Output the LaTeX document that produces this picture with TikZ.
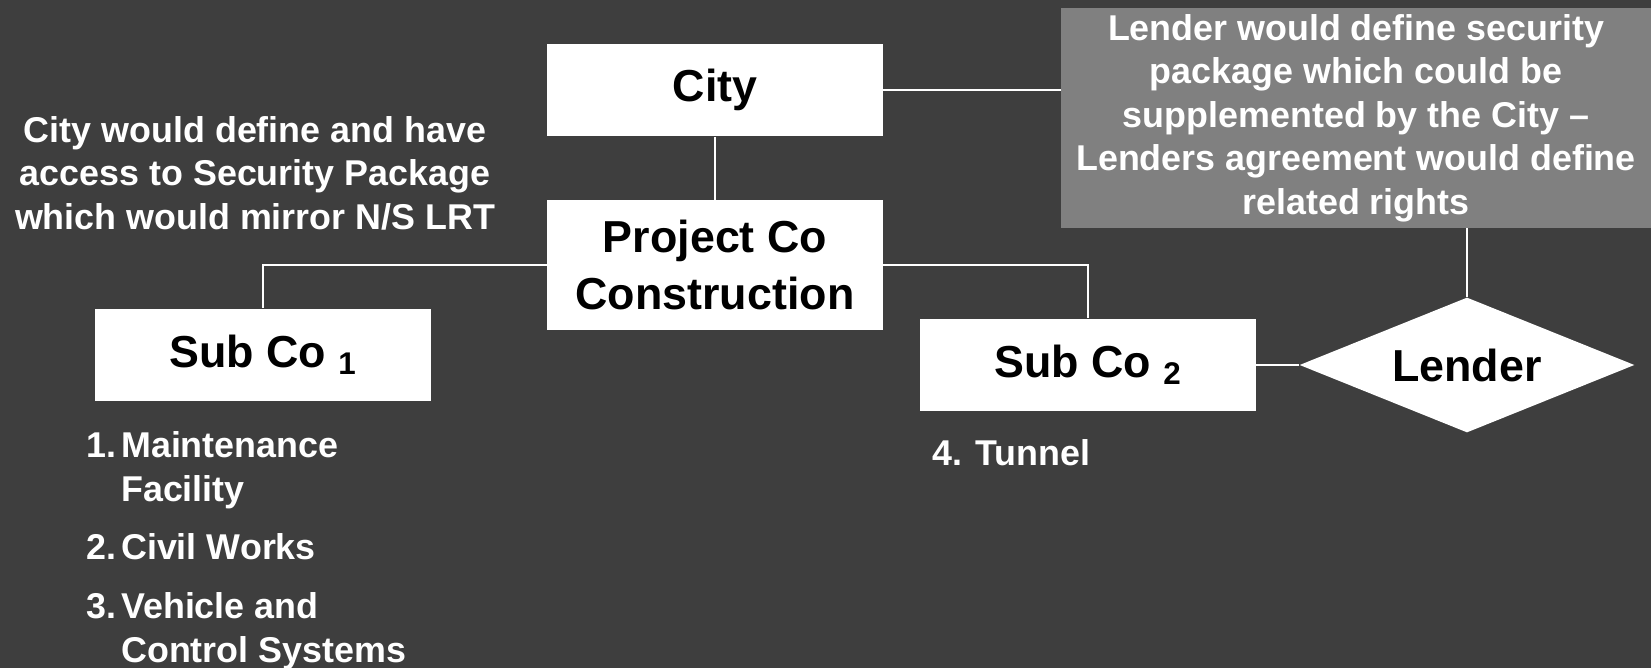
\documentclass[tikz,border=0pt]{standalone}
\usepackage{fontspec}
\setmainfont{Liberation Sans}
\usetikzlibrary{shapes.geometric}
\definecolor{slate}{RGB}{62,62,62}
\definecolor{notegray}{RGB}{128,128,128}
\tikzset{
    box/.style={fill=white, text=black, inner sep=0pt,
                minimum width=6.72cm, minimum height=1.86cm,
                font=\fontsize{25.5}{32}\selectfont\bfseries, align=center},
    remark/.style={text=white, inner sep=0pt,
                font=\fontsize{20.4}{24.8}\selectfont\bfseries},
    link/.style={draw=white, line width=0.8pt},
}

\begin{document}
\begin{tikzpicture}[x=0.02cm, y=-0.02cm]
    % background
    \fill[slate] (0,0) rectangle (1651,668);
    \useasboundingbox (0,0) rectangle (1651,668);

    % the chart boxes
    \node[box] (city) at (715,90) {City};
    \node[box, minimum height=2.6cm] (projco) at (715,265) {Project Co\\Construction};
    \node[box] (subco1) at (263,355) {Sub Co \textsubscript{1}};
    \node[box] (subco2) at (1088,365) {Sub Co \textsubscript{2}};
    \node[box, diamond, aspect=2.5, minimum width=6.7cm, minimum height=2.7cm] (lender) at (1467,365) {Lender};

    % security notes
    \node[remark, align=center] (citynote) at (255,173)
        {City would define and have\\access to Security Package\\which would mirror N/S LRT};
    \node[remark, align=center, fill=notegray, minimum width=11.8cm, minimum height=4.4cm] (lendnote) at (1356,118)
        {Lender would define security\\package which could be\\supplemented by the City \textendash\\Lenders agreement would define\\related rights};

    % work packages
    \node[remark, anchor=north west] (works1) at (86,427) {%
        \begin{tabular}[t]{@{}l@{\hspace{0.1cm}}l@{}}
            1. & Maintenance\\
               & Facility\\[0.3cm]
            2. & Civil Works\\[0.3cm]
            3. & Vehicle and\\
               & Control Systems
        \end{tabular}};
    \node[remark, anchor=base west] (works2) at (932,466) {4. Tunnel};

    % connectors
    \draw[link] (city.east) -- (city.east -| lendnote.west);
    \draw[link] (city.south) -- (projco.north);
    \draw[link] (projco.west) -| (subco1.north);
    \draw[link] (projco.east) -| (subco2.north);
    \draw[link] (subco2.east) -- (lender.west);
    \draw[link] (lender.north |- lendnote.south) -- (lender.north);
\end{tikzpicture}
\end{document}
